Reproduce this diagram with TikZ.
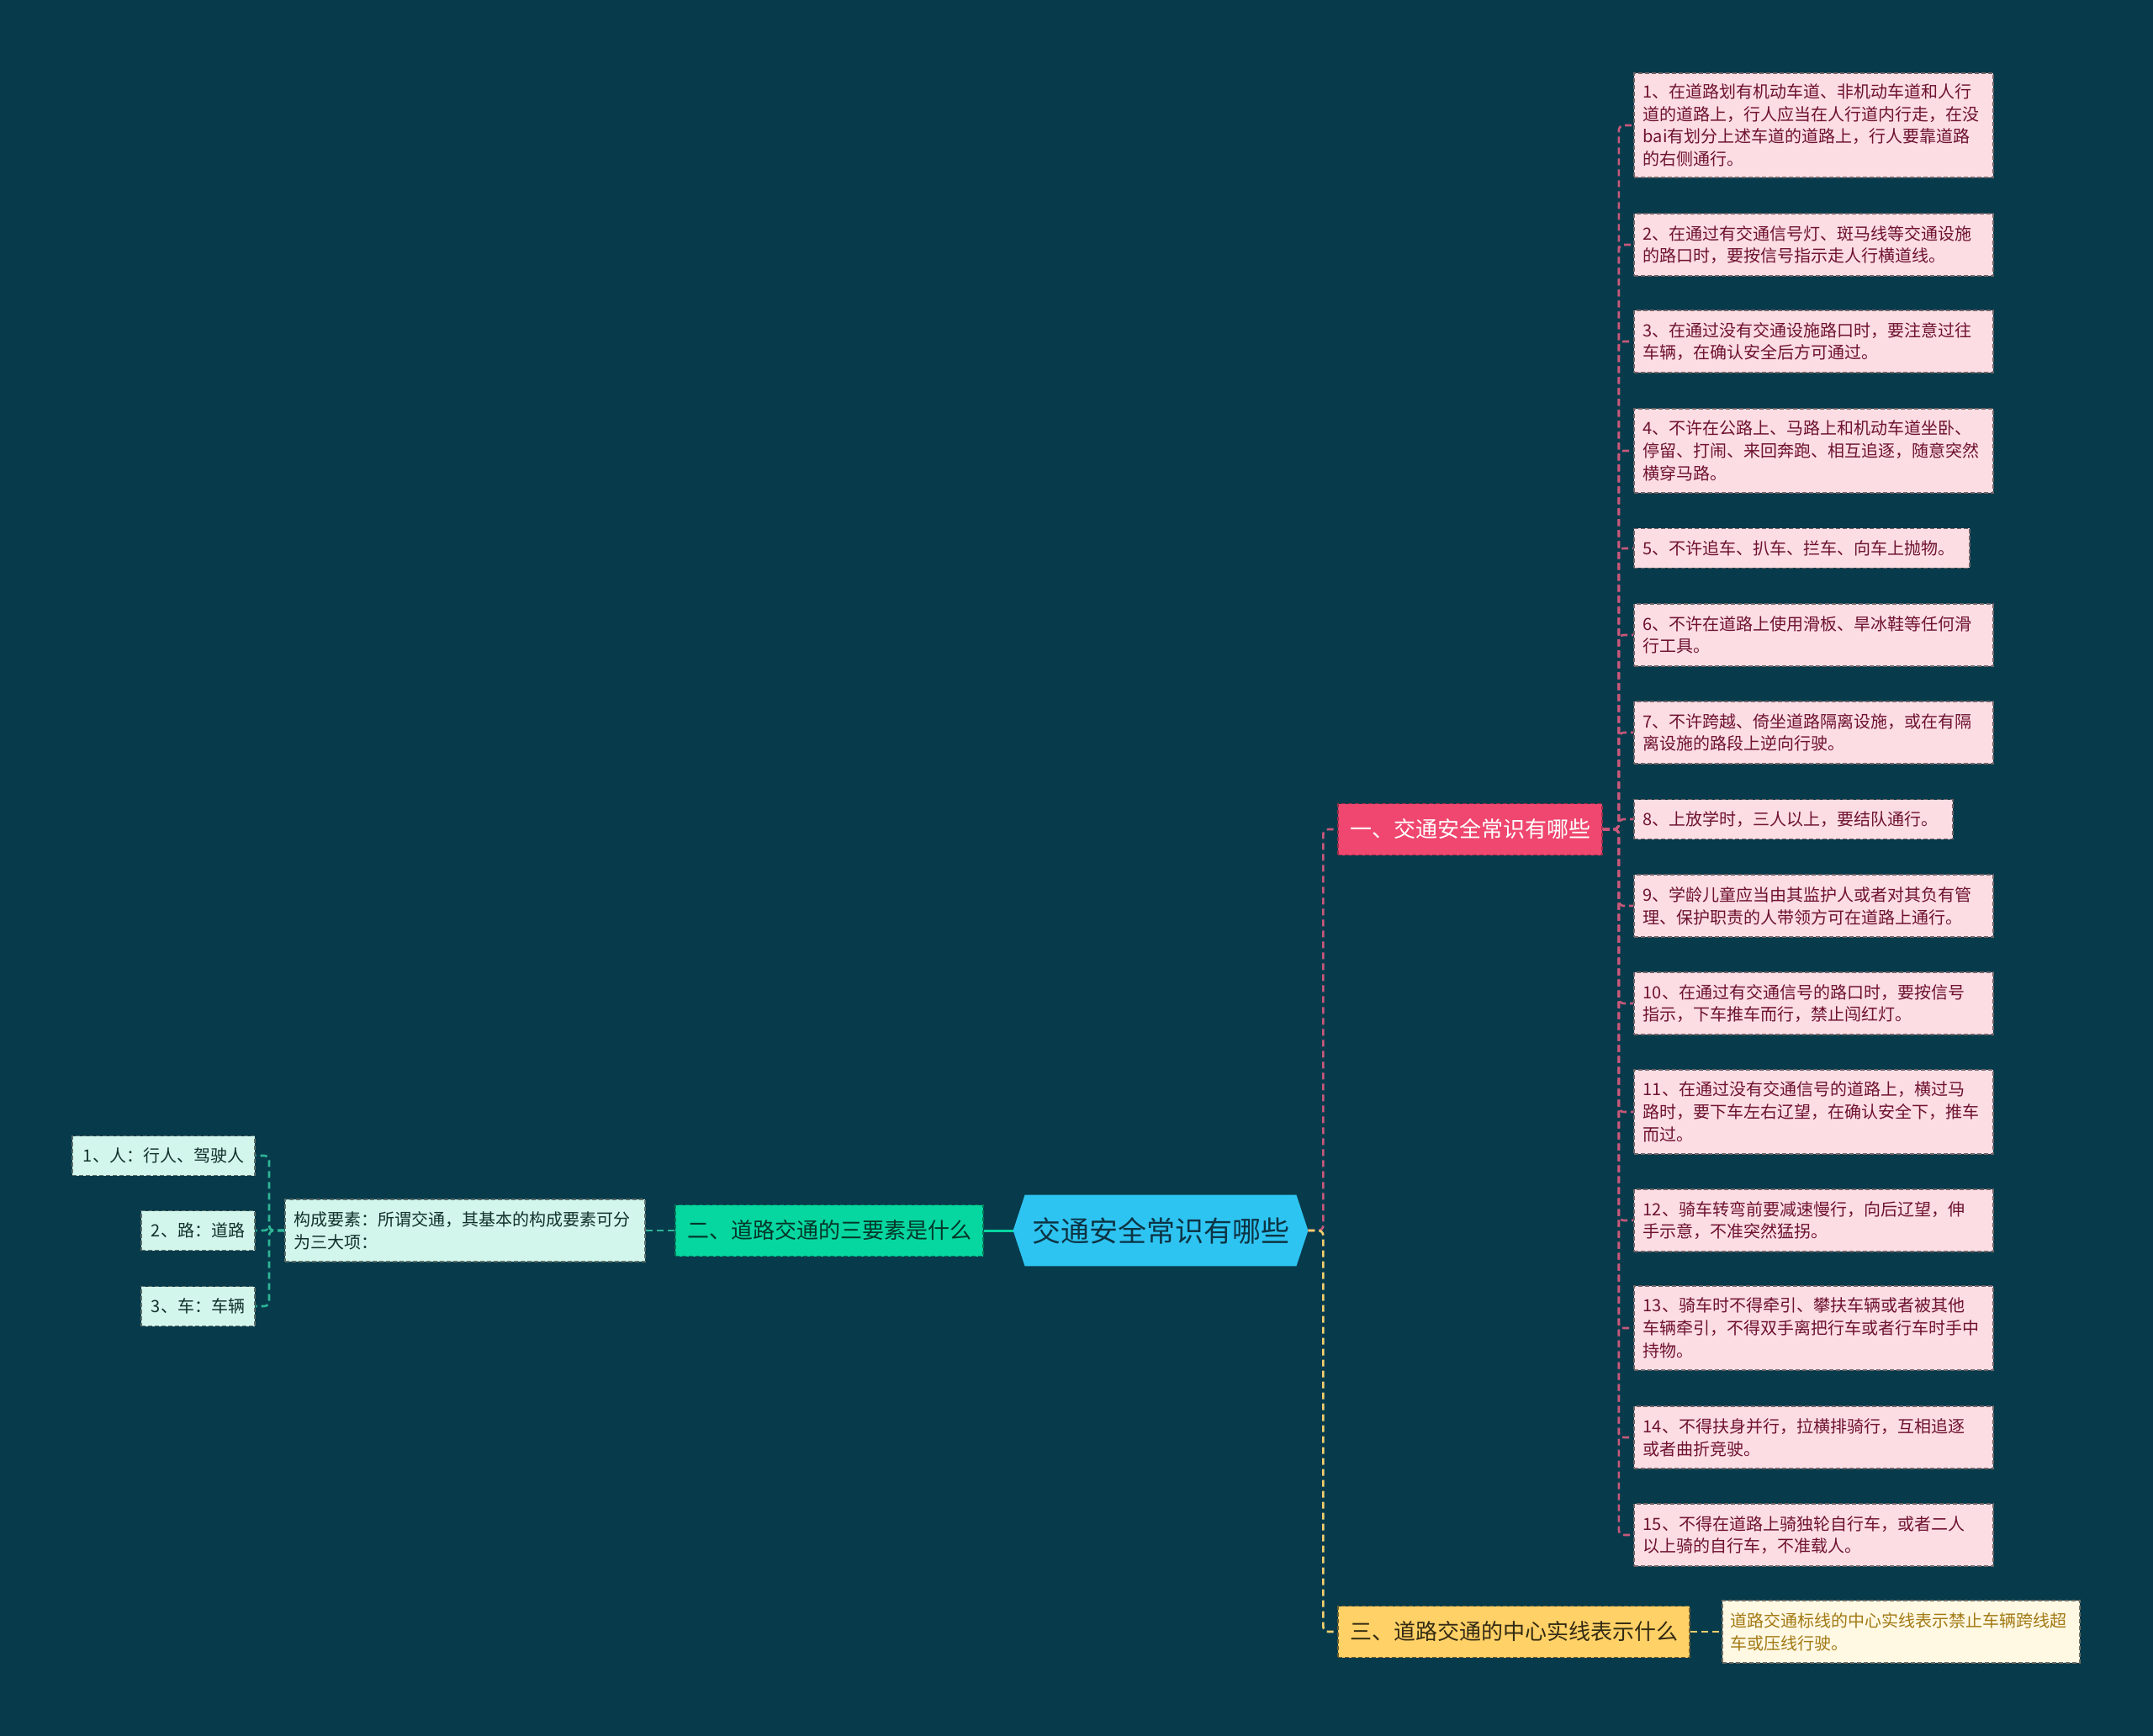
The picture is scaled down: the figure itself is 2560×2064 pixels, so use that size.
\documentclass[tikz,border=0pt]{standalone}
\usepackage{fontspec}
\setmainfont{Noto Sans CJK SC}
\usetikzlibrary{positioning, calc}
\definecolor{mapbg}{HTML}{073B4C}
\definecolor{rootcyan}{HTML}{2EC4F2}
\definecolor{roottext}{HTML}{0C3444}
\definecolor{mainpink}{HTML}{EF476F}
\definecolor{maingreen}{HTML}{06D6A0}
\definecolor{mainyellow}{HTML}{FFD166}
\definecolor{leafpink}{HTML}{FCDDE3}
\definecolor{leafpinktext}{HTML}{6E1230}
\definecolor{leafgreen}{HTML}{D2F6EC}
\definecolor{leafgreentext}{HTML}{12302C}
\definecolor{leafyellow}{HTML}{FFF8E3}
\definecolor{leafyellowtext}{HTML}{A27A14}
\definecolor{linepink}{HTML}{C8587A}
\definecolor{linegreen}{HTML}{2FB596}
\definecolor{lineyellow}{HTML}{F3CF6E}
\pgfdeclarelayer{back}
\pgfsetlayers{back,main}

\begin{document}
\begin{tikzpicture}[
  x=0.5pt, y=-0.5pt,
  dashbox/.style={draw, dash pattern=on 2.5pt off 1.5pt, line width=0.8pt},
  rootnode/.style={
    minimum width=175pt, minimum height=42pt, inner sep=0pt,
    text=roottext, font=\fontsize{17pt}{20pt}\selectfont
  },
  topic/.style={
    dashbox, minimum height=30.5pt, inner sep=0pt,
    font=\fontsize{13pt}{16pt}\selectfont
  },
  leaf/.style={
    dashbox, anchor=west, align=left, text width=202.5pt,
    inner xsep=5.5pt, inner ysep=2pt,
    font=\fontsize{10pt}{13.35pt}\selectfont
  },
  pinkleaf/.style={leaf, fill=leafpink, draw=leafpink!45!black, text=leafpinktext},
  greenleaf/.style={
    dashbox, fill=leafgreen, draw=leafgreen!45!black, text=leafgreentext,
    minimum height=23.5pt, inner sep=0pt, font=\fontsize{10pt}{13.35pt}\selectfont
  },
  pinkline/.style={linepink, line width=1.3pt, dash pattern=on 4pt off 2.5pt, rounded corners=3pt},
  greenline/.style={linegreen, line width=1.3pt, dash pattern=on 4pt off 2.5pt, rounded corners=3pt},
  yellowline/.style={lineyellow, line width=1.3pt, dash pattern=on 4pt off 2.5pt, rounded corners=3pt}
]
  \useasboundingbox (0,0) rectangle (2560,2064);
  \begin{pgfonlayer}{back}
    \fill[mapbg] (0,0) rectangle (2560,2064);
  \end{pgfonlayer}

  % Central topic
  \node[rootnode] (root) at (1380,1463) {交通安全常识有哪些};
  \begin{pgfonlayer}{back}
    \fill[rootcyan] (root.west) -- ([xshift=7pt]root.north west)
      -- ([xshift=-7pt]root.north east) -- (root.east)
      -- ([xshift=-7pt]root.south east) -- ([xshift=7pt]root.south west) -- cycle;
  \end{pgfonlayer}

  % Main topics
  \node[topic, fill=mainpink, draw=mainpink!65!black, text=white,
    minimum width=157pt] (b1) at (1748,986) {一、交通安全常识有哪些};
  \node[topic, fill=maingreen, draw=maingreen!55!black, text=maingreen!25!black,
    minimum width=183pt] (b2) at (986,1463) {二、道路交通的三要素是什么};
  \node[topic, fill=mainyellow, draw=mainyellow!45!black, text=mainyellow!20!black,
    minimum width=209pt] (b3) at (1800,1940) {三、道路交通的中心实线表示什么};

  % Branch one: fifteen rules
  \node[pinkleaf, minimum height=62pt] (p1) at (1942,149)
    {1、在道路划有机动车道、非机动车道和人行\\道的道路上，行人应当在人行道内行走，在没\\bai有划分上述车道的道路上，行人要靠道路\\的右侧通行。};
  \node[pinkleaf, minimum height=37pt] (p2) at (1942,291)
    {2、在通过有交通信号灯、斑马线等交通设施\\的路口时，要按信号指示走人行横道线。};
  \node[pinkleaf, minimum height=37pt] (p3) at (1942,406)
    {3、在通过没有交通设施路口时，要注意过往\\车辆，在确认安全后方可通过。};
  \node[pinkleaf, minimum height=50pt] (p4) at (1942,536)
    {4、不许在公路上、马路上和机动车道坐卧、\\停留、打闹、来回奔跑、相互追逐，随意突然\\横穿马路。};
  \node[pinkleaf, minimum height=23.5pt, text width=188.5pt] (p5) at (1942,652)
    {5、不许追车、扒车、拦车、向车上抛物。};
  \node[pinkleaf, minimum height=37pt] (p6) at (1942,755)
    {6、不许在道路上使用滑板、旱冰鞋等任何滑\\行工具。};
  \node[pinkleaf, minimum height=37pt] (p7) at (1942,871)
    {7、不许跨越、倚坐道路隔离设施，或在有隔\\离设施的路段上逆向行驶。};
  \node[pinkleaf, minimum height=23.5pt, text width=178.5pt] (p8) at (1942,974)
    {8、上放学时，三人以上，要结队通行。};
  \node[pinkleaf, minimum height=37pt] (p9) at (1942,1077)
    {9、学龄儿童应当由其监护人或者对其负有管\\理、保护职责的人带领方可在道路上通行。};
  \node[pinkleaf, minimum height=37pt] (p10) at (1942,1193)
    {10、在通过有交通信号的路口时，要按信号\\指示，下车推车而行，禁止闯红灯。};
  \node[pinkleaf, minimum height=50pt] (p11) at (1942,1322)
    {11、在通过没有交通信号的道路上，横过马\\路时，要下车左右辽望，在确认安全下，推车\\而过。};
  \node[pinkleaf, minimum height=37pt] (p12) at (1942,1451)
    {12、骑车转弯前要减速慢行，向后辽望，伸\\手示意，不准突然猛拐。};
  \node[pinkleaf, minimum height=50pt] (p13) at (1942,1579)
    {13、骑车时不得牵引、攀扶车辆或者被其他\\车辆牵引，不得双手离把行车或者行车时手中\\持物。};
  \node[pinkleaf, minimum height=37pt] (p14) at (1942,1709)
    {14、不得扶身并行，拉横排骑行，互相追逐\\或者曲折竞驶。};
  \node[pinkleaf, minimum height=37pt] (p15) at (1942,1825)
    {15、不得在道路上骑独轮自行车，或者二人\\以上骑的自行车，不准载人。};

  % Branch two: three elements
  \node[leaf, fill=leafgreen, draw=leafgreen!45!black, text=leafgreentext,
    text width=203pt, minimum height=37pt] (def) at (338,1463)
    {构成要素：所谓交通，其基本的构成要素可分\\为三大项：};
  \node[greenleaf, minimum width=108.5pt] (g1) at (194.5,1374) {1、人：行人、驾驶人};
  \node[greenleaf, minimum width=67.5pt] (g2) at (235.5,1463) {2、路：道路};
  \node[greenleaf, minimum width=67.5pt] (g3) at (235.5,1553) {3、车：车辆};

  % Branch three: centre line
  \node[leaf, fill=leafyellow, draw=leafyellow!45!black, text=leafyellowtext,
    text width=202.5pt, inner xsep=5pt, minimum height=37pt] (y1) at (2047,1940)
    {道路交通标线的中心实线表示禁止车辆跨线超\\车或压线行驶。};

  % Connectors
  \draw[maingreen, line width=1.5pt] (root.west) -- (b2.east);
  \draw[greenline] (b2.west) -- (def.east);
  \foreach \k in {1,2,3}
    \draw[greenline] (def.west) -- ++(-18,0) |- (g\k.east);
  \draw[pinkline] (root.east) -- ++(18,0) |- (b1.west);
  \draw[yellowline] (root.east) -- ++(18,0) |- (b3.west);
  \foreach \k in {1,...,15}
    \draw[pinkline] (b1.east) -- ++(19,0) |- (p\k.west);
  \draw[yellowline] (b3.east) -- (y1.west);
\end{tikzpicture}
\end{document}
